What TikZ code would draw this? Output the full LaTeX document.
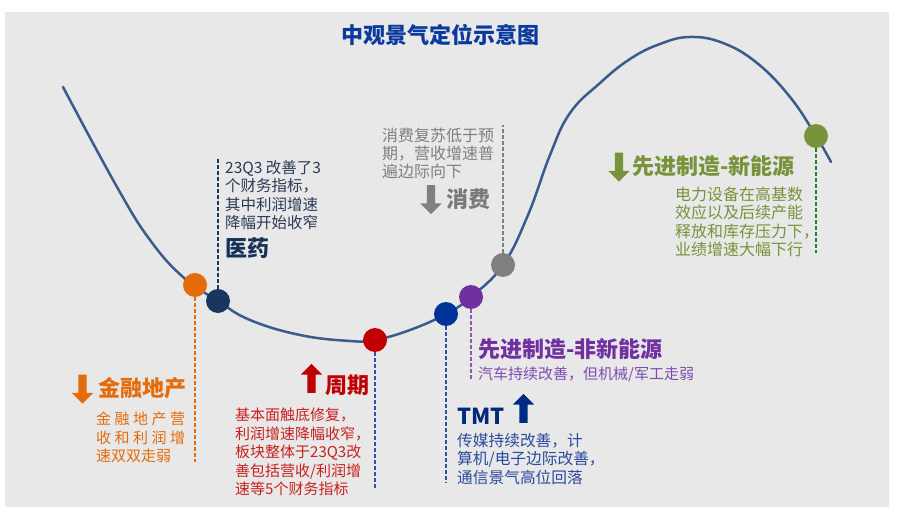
\documentclass[tikz,border=0pt]{standalone}
\usepackage{fontspec}
\newfontfamily\cjk{Noto Sans CJK SC}
\usetikzlibrary{shapes.arrows}
\definecolor{bggray}{HTML}{E8E8E8}
\definecolor{curveblue}{HTML}{3B5B8E}
\definecolor{titleblue}{HTML}{0B3A9E}
\definecolor{finorange}{HTML}{E46C0A}
\definecolor{mednavy}{HTML}{17375E}
\definecolor{medtext}{HTML}{2B3A55}
\definecolor{cycred}{HTML}{C00000}
\definecolor{cyctext}{HTML}{C9211E}
\definecolor{tmtblue}{HTML}{003399}
\definecolor{tmttext}{HTML}{2A4A9E}
\definecolor{leadblue}{HTML}{3050A8}
\definecolor{mfgpurple}{HTML}{7030A0}
\definecolor{mfgtext}{HTML}{7F4AAE}
\definecolor{consgray}{HTML}{808080}
\definecolor{nevgreen}{HTML}{77933C}
\definecolor{leadgreen}{HTML}{2A7F2A}

\begin{document}
\begin{tikzpicture}[x=1pt,y=-1pt,
 stagedot/.style={circle,fill=#1,minimum size=24pt,inner sep=0pt},
 leader/.style={draw=#1,line width=1.6pt,dash pattern=on 4pt off 2pt},
 sectorhead/.style={anchor=north west,inner sep=0pt,text=#1,font=\cjk\bfseries\fontsize{22}{26}\selectfont},
 sectortext/.style={anchor=north west,inner sep=0pt,align=left,text=#1,font=\cjk\fontsize{15}{18.5}\selectfont},
 trendarrow/.style={single arrow,fill=#1,inner sep=4pt,minimum height=29pt,minimum width=21pt,single arrow head extend=6.5pt}]
\useasboundingbox(0,0)rectangle(897,521);
\fill[bggray](5,12)rectangle(889,507);
\node[font=\cjk\bfseries\fontsize{22}{26}\selectfont,text=titleblue,inner sep=0pt](title)at(440,35){中观景气定位示意图};
% business cycle curve
\draw[curveblue,line width=2.5pt,line cap=round]plot[smooth,tension=0.7]coordinates{
 (63,87)(117,187)(150,240)(183,277)(218,301)(250,320)(300,335)(350,341)(375,340)
 (410,330)(446,314)(471,297)(503,265)(528,215)(550,155)(570,113)(600,83)(630,59)(660,44)
 (690,37)(723,43)(757,63)(790,97)(816,136)(831,162)};
% sectors on the curve
\node[stagedot=finorange](fin)at(195,285){};
\node[stagedot=mednavy](med)at(218,301){};
\node[stagedot=cycred](cyc)at(375,340){};
\node[stagedot=tmtblue](tmt)at(446,314){};
\node[stagedot=mfgpurple](mfg)at(471,297){};
\node[stagedot=consgray](cons)at(503,265){};
\node[stagedot=nevgreen](nev)at(816,136){};
\coordinate(finend)at(195,462);
\coordinate(medend)at(218,157);
\coordinate(cycend)at(375,488);
\coordinate(tmtend)at(446,483);
\coordinate(mfgend)at(471,379);
\coordinate(consend)at(503,125);
\coordinate(nevend)at(816,253);
\draw[leader=finorange](fin)--(finend);
\draw[leader=mednavy](med)--(medend);
\draw[leader=leadblue](cyc)--(cycend);
\draw[leader=leadblue](tmt)--(tmtend);
\draw[leader=mfgpurple!80](mfg)--(mfgend);
\draw[leader=consgray](cons)--(consend);
\draw[leader=leadgreen](nev)--(nevend);
% 医药
\node[sectortext=medtext,font=\cjk\fontsize{15.5}{18.5}\selectfont](medtxt)at(225,160){23Q3 改善了3\\个财务指标，\\其中利润增速\\降幅开始收窄};
\node[sectorhead=mednavy!90!black](medhead)at(225,237){医药};
% 消费
\node[sectortext=consgray,font=\cjk\fontsize{16}{18}\selectfont](constxt)at(382,128){消费复苏低于预\\期，营收增速普\\遍边际向下};
\node[trendarrow=consgray,rotate=-90](consarr)at(431,197.5){};
\node[sectorhead=consgray!95!black](conshead)at(446,188){消费};
% 先进制造-新能源
\node[trendarrow=nevgreen,rotate=-90](nevarr)at(619,165){};
\node[sectorhead=nevgreen](nevhead)at(632,155){先进制造-新能源};
\node[sectortext=nevgreen,font=\cjk\fontsize{16}{18.3}\selectfont](nevtxt)at(675,187){电力设备在高基数\\效应以及后续产能\\释放和库存压力下，\\业绩增速大幅下行};
% 金融地产
\node[trendarrow=finorange,rotate=-90](finarr)at(82.5,387){};
\node[sectorhead=finorange](finhead)at(98,377){金融地产};
\node[sectortext=finorange](fintxt)at(96,412){\makebox[89pt][s]{金\hfil 融\hfil 地\hfil 产\hfil 营}\\
 \makebox[89pt][s]{收\hfil 和\hfil 利\hfil 润\hfil 增}\\速双双走弱};
% 周期
\node[trendarrow=cycred,rotate=90](cycarr)at(311.5,380.5){};
\node[sectorhead=cycred](cychead)at(325,375){周期};
\node[sectortext=cyctext](cyctxt)at(235,408){基本面触底修复，\\利润增速降幅收窄，\\板块整体于23Q3改\\善包括营收/利润增\\速等5个财务指标};
% 先进制造-非新能源
\node[sectorhead=mfgpurple](mfghead)at(478,338){先进制造-非新能源};
\node[sectortext=mfgtext](mfgtxt)at(478,367){汽车持续改善，但机械/军工走弱};
% TMT
\node[sectorhead=tmtblue!80!black](tmthead)at(457,408){TMT};
\node[trendarrow=tmtblue!85!black,rotate=90](tmtarr)at(523.5,410.5){};
\node[sectortext=tmttext,font=\cjk\fontsize{15.7}{18.5}\selectfont](tmttxt)at(457,433){传媒持续改善，计\\算机/电子边际改善，\\通信景气高位回落};
\end{tikzpicture}
\end{document}
